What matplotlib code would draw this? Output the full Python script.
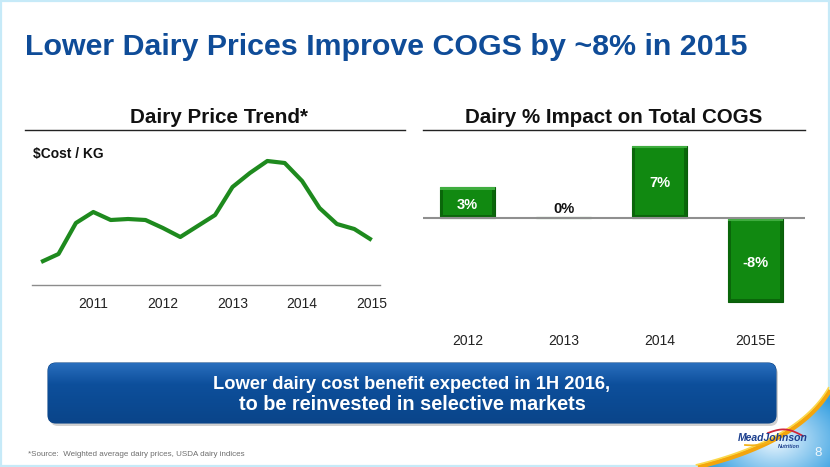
import numpy as np
import matplotlib
matplotlib.use("Agg")
import matplotlib.pyplot as plt
from matplotlib import font_manager
from matplotlib.patches import FancyBboxPatch, Rectangle, Polygon

# ---------------- data ----------------
price_x = [2010.25, 2010.5, 2010.75, 2011.0, 2011.25, 2011.5, 2011.75, 2012.0,
           2012.25, 2012.5, 2012.75, 2013.0, 2013.25, 2013.5, 2013.75, 2014.0,
           2014.25, 2014.5, 2014.75, 2015.0]
price_y = [28, 36, 67, 78, 70, 71, 70, 62, 53, 64, 75, 103, 117, 129, 127, 109,
           82, 66, 61, 50]
price_ticks = [2011, 2012, 2013, 2014, 2015]

cogs_cats = ["2012", "2013", "2014", "2015E"]
cogs_vals = [3.0, 0.15, 7.0, -8.1]
cogs_labels = ["3%", "0%", "7%", "-8%"]

main_title = "Lower Dairy Prices Improve COGS by ~8% in 2015"
left_title = "Dairy Price Trend*"
right_title = "Dairy % Impact on Total COGS"
unit_label = "$Cost / KG"
box_lines = ["Lower dairy cost benefit expected in 1H 2016,",
             "to be reinvested in selective markets"]
footer = "*Source:  Weighted average dairy prices, USDA dairy indices"

# ---------------- fonts ----------------
names = {f.name for f in font_manager.fontManager.ttflist}
REG = "Liberation Sans" if "Liberation Sans" in names else "DejaVu Sans"

W, H = 830, 467
fig = plt.figure(figsize=(W / 100, H / 100), dpi=100)
fig.patch.set_facecolor("white")

def fax(l, t, r, b):
    return [l / W, 1 - b / H, (r - l) / W, (b - t) / H]

# background axes in pixel coordinates
bg = fig.add_axes([0, 0, 1, 1], zorder=0)
bg.set_xlim(0, W)
bg.set_ylim(H, 0)
bg.axis("off")

# slide border
bg.add_patch(Rectangle((0.8, 0.8), W - 1.6, H - 1.6, fill=False,
                       edgecolor="#c6eaf8", lw=1.6))

# bottom-right swoosh
t = np.linspace(0, 1, 60)
P0, P1, P2 = np.array([698, 467]), np.array([800, 442]), np.array([830, 390])
curve = ((1 - t)[:, None] ** 2) * P0 + (2 * (1 - t) * t)[:, None] * P1 + (t[:, None] ** 2) * P2
poly = np.vstack([curve, [[830, 467]]])
sw = Polygon(poly, closed=True, facecolor="none", edgecolor="none")
bg.add_patch(sw)
gx, gy = np.meshgrid(np.linspace(690, 830, 140), np.linspace(380, 467, 90))
r = np.sqrt(((gx - 775) / 1.4) ** 2 + (gy - 440) ** 2)
k = np.clip(r / 55, 0, 1)[..., None]
light = np.array([0.93, 0.97, 1.0])
blue = np.array([0.20, 0.62, 0.88])
img = light * (1 - k) + blue * k
im = bg.imshow(img, extent=(690, 830, 467, 380), origin="upper",
               interpolation="bilinear", aspect="auto", zorder=1)
im.set_clip_path(sw)
bg.plot(curve[:, 0], curve[:, 1], color="#f3a50c", lw=3.2, zorder=2,
        solid_capstyle="butt")
bg.plot(curve[:, 0] - 1.5, curve[:, 1] - 2.2, color="#fbd84a", lw=1.2, zorder=2)

# logo (approximation)
ta = np.linspace(0, 1, 30)
bg.plot(768 + 35 * ta, 433 - 5 * np.sin(np.pi * ta) + 3 * ta, color="#d0263b",
        lw=1.3, zorder=3)
bg.plot(745 + 25 * ta, 445 - 3 * ta + 1.5 * np.sin(np.pi * ta), color="#f3b21a",
        lw=1.3, zorder=3)
bg.text(773, 441, "MeadJohnson", fontsize=7.5, fontstyle="italic",
        fontweight="bold", color="#1c3f8e", family=REG, ha="center",
        va="baseline", zorder=4)
bg.text(789, 448, "Nutrition", fontsize=3.8, fontstyle="italic",
        fontweight="bold", color="#1c3f8e", family=REG, ha="center",
        va="baseline", zorder=4)
bg.text(818, 456, "8", fontsize=9.5, color="#eef7fc", family=REG, ha="center",
        va="baseline", zorder=4)

# blue message box with shadow and gradient
bg.add_patch(FancyBboxPatch((50, 366), 728, 60,
                            boxstyle="round,pad=0,rounding_size=8",
                            facecolor="#9a9a9a", edgecolor="none", alpha=0.45,
                            zorder=3))
box = FancyBboxPatch((48, 363), 728, 60, boxstyle="round,pad=0,rounding_size=8",
                     facecolor="#0d4e9c", edgecolor="#0a4386", lw=0.8, zorder=4)
bg.add_patch(box)
grad = np.linspace(0, 1, 60)[:, None]
top_c = np.array([0.16, 0.43, 0.74])
mid_c = np.array([0.05, 0.31, 0.61])
bot_c = np.array([0.04, 0.27, 0.54])
gimg = np.where(grad < 0.35, top_c + (mid_c - top_c) * (grad / 0.35),
                mid_c + (bot_c - mid_c) * ((grad - 0.35) / 0.65))
gimg = np.repeat(gimg[:, None, :], 4, axis=1)
bim = bg.imshow(gimg, extent=(48, 776, 423, 363), origin="upper",
                interpolation="bilinear", aspect="auto", zorder=5)
bim.set_clip_path(box)

fitlist = []

def txt(x, y, s, width=None, **kw):
    tt = bg.text(x, y, s, **kw)
    if width is not None:
        fitlist.append((tt, width))
    return tt

txt(25, 55, main_title, width=723, fontsize=22, fontweight="bold",
    color="#0f4c98", family=REG, ha="left", va="baseline", zorder=6)
txt(219, 123, left_title, width=178, fontsize=15, fontweight="bold",
    color="#111111", family=REG, ha="center", va="baseline", zorder=6)
txt(614, 123, right_title, width=298, fontsize=15, fontweight="bold",
    color="#111111", family=REG, ha="center", va="baseline", zorder=6)
txt(33, 158, unit_label, width=70, fontsize=9, fontweight="bold",
    color="#111111", family=REG, ha="left", va="baseline", zorder=6)
txt(412, 389, box_lines[0], width=397, fontsize=13, fontweight="bold",
    color="white", family=REG, ha="center", va="baseline", zorder=6)
txt(412, 410, box_lines[1], width=346, fontsize=13, fontweight="bold",
    color="white", family=REG, ha="center", va="baseline", zorder=6)
txt(28, 456, footer, width=217, fontsize=6, color="#6e6e6e", family=REG,
    ha="left", va="baseline", zorder=6)

# title rules
bg.plot([25, 405], [130, 130], color="#222222", lw=1.0, zorder=6)
bg.plot([423, 805], [130, 130], color="#222222", lw=1.0, zorder=6)

# ---------------- left chart: line ----------------
axL = fig.add_axes(fax(32, 150, 380, 285), zorder=2)
axL.patch.set_alpha(0)
px_per_year = (371.7 - 93.3) / 4
axL.set_xlim(2011 - (93.3 - 32) / px_per_year, 2015 + (380 - 371.7) / px_per_year)
axL.set_ylim(5, 140)
axL.plot(price_x, price_y, color="#1e8a1e", lw=3.0, solid_joinstyle="round",
         solid_capstyle="butt")
for s in ["top", "right", "left"]:
    axL.spines[s].set_visible(False)
axL.spines["bottom"].set_color("#8c8c8c")
axL.spines["bottom"].set_linewidth(1.0)
axL.set_yticks([])
axL.set_xticks(price_ticks)
axL.set_xticklabels([str(v) for v in price_ticks], family=REG, fontsize=10,
                    color="#222222")
axL.tick_params(axis="x", length=0, pad=9)

# ---------------- right chart: bars ----------------
axR = fig.add_axes(fax(423, 140, 805, 320), zorder=2)
axR.patch.set_alpha(0)
axR.axis("off")
pxu = 10.3
ylo, yhi = -(320 - 218.3) / pxu, (218.3 - 140) / pxu
bw = 55 / 96
xs = np.arange(len(cogs_vals))
bars = axR.bar(xs, cogs_vals, width=bw, color="#118a11", edgecolor="#0a5c0a",
               lw=0.8, zorder=2)

def bevel_img(hpx, wpx=55):
    hpx = max(int(round(hpx)), 2)
    base = np.array([0.07, 0.54, 0.07])
    img = np.tile(base, (hpx, wpx, 1))
    b = 3
    dark = np.array([0.04, 0.40, 0.04])
    lite = np.array([0.25, 0.68, 0.25])
    img[:, :b] = dark
    img[:, -b:] = dark
    img[-b:, :] = dark
    img[:b, :] = lite
    return img

for rect, v in zip(bars, cogs_vals):
    x0 = rect.get_x()
    y0, y1 = min(0, v), max(0, v)
    hpx = abs(v) * pxu
    if hpx > 5:
        bi = axR.imshow(bevel_img(hpx), extent=(x0, x0 + bw, y0, y1),
                        origin="upper", interpolation="bilinear",
                        aspect="auto", zorder=3)
        bi.set_clip_path(rect)

axR.axhline(0, color="#8f8f8f", lw=1.5, zorder=4)
axR.set_xlim(-0.464, 3.516)
axR.set_ylim(ylo, yhi)

for x, v, lab in zip(xs, cogs_vals, cogs_labels):
    if abs(v) < 0.5:
        axR.text(x, 0.9, lab, ha="center", va="center", fontsize=10.5,
                 fontweight="bold", color="#111111", family=REG, zorder=5)
    else:
        yy = 1.3 if v == 3.0 else (3.45 if v > 0 else -4.35)
        axR.text(x, yy, lab, ha="center", va="center", fontsize=10.5,
                 fontweight="bold", color="white", family=REG, zorder=5)
    axR.text(x, -0.139, cogs_cats[x], transform=axR.get_xaxis_transform(),
             ha="center", va="baseline", fontsize=10, color="#222222",
             family=REG, zorder=5)

# fit widths of texts to the reference
fig.canvas.draw()
ren = fig.canvas.get_renderer()
for tt, wt in fitlist:
    w = tt.get_window_extent(ren).width
    tt.set_fontsize(tt.get_fontsize() * wt / w)

fig.savefig("out.png", dpi=100, facecolor="white")
